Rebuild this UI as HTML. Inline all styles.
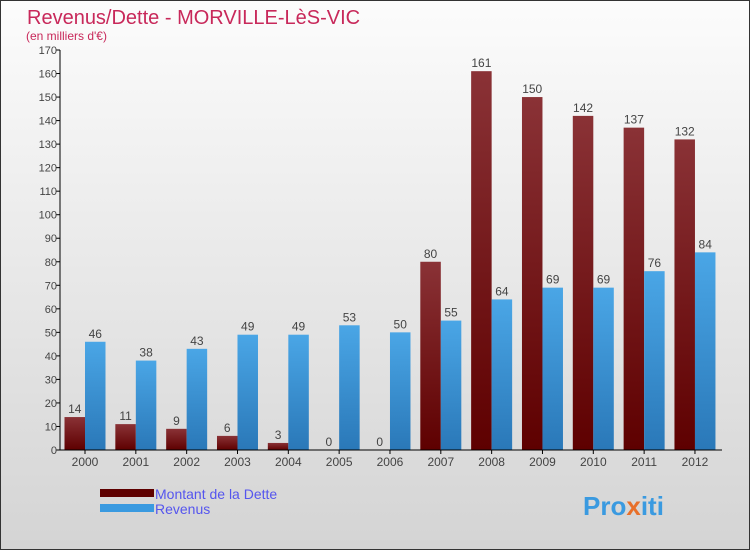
<!DOCTYPE html>
<html><head><meta charset="utf-8"><style>
body{margin:0;width:750px;height:550px;overflow:hidden;font-family:"Liberation Sans",sans-serif}
svg{display:block}
</style></head><body>
<svg id="c" width="750" height="550" xmlns="http://www.w3.org/2000/svg">
<defs>
<linearGradient id="bg" x1="0" y1="0" x2="0" y2="1"><stop offset="0" stop-color="#fcfcfc"/><stop offset="1" stop-color="#d4d4d4"/></linearGradient>
<linearGradient id="gd" x1="0" y1="0" x2="0" y2="1"><stop offset="0" stop-color="#8a3236"/><stop offset="1" stop-color="#5e0000"/></linearGradient>
<linearGradient id="gr" x1="0" y1="0" x2="0" y2="1"><stop offset="0" stop-color="#4aa6e6"/><stop offset="1" stop-color="#2a78b8"/></linearGradient>
</defs>
<rect x="0.5" y="0.5" width="749" height="549" fill="url(#bg)" stroke="#333"/>
<text x="27" y="24" font-size="20" fill="#c8285a">Revenus/Dette - MORVILLE-LèS-VIC</text>
<text x="26" y="40" font-size="12" fill="#c8285a">(en milliers d'€)</text>
<g id="plot"></g>
<rect x="100" y="489" width="54" height="8" fill="#5e0000"/>
<rect x="100" y="504" width="54" height="8" fill="#3a9ae0"/>
<text x="155" y="499" font-size="14" fill="#5555ee">Montant de la Dette</text>
<text x="155" y="514" font-size="14" fill="#5555ee">Revenus</text>
<text x="583" y="515" font-size="26" font-weight="bold" fill="#3a9ae0">Pro<tspan fill="#e8702a">x</tspan>iti</text>
</svg>
<script>
const years=["2000","2001","2002","2003","2004","2005","2006","2007","2008","2009","2010","2011","2012"];
const dette=[14,11,9,6,3,0,0,80,161,150,142,137,132];
const revenus=[46,38,43,49,49,53,50,55,64,69,69,76,84];
const yTicks=[0,10,20,30,40,50,60,70,80,90,100,110,120,130,140,150,160,170];
const NS="http://www.w3.org/2000/svg";
const g=document.getElementById('plot');
const y0=450,y1=50,vmax=170,x0=60,step=50.83,bw=20.5;
const ys=v=>y0-(v/vmax)*(y0-y1);
const xc=i=>x0+25+i*step;
function mk(t,a){const e=document.createElementNS(NS,t);for(const k in a)e.setAttribute(k,a[k]);g.appendChild(e);return e;}
yTicks.forEach(v=>{
 const l=mk('line',{x1:x0-4,x2:x0,y1:ys(v),y2:ys(v),stroke:'#000'});
 
 
 const t=mk('text',{x:x0-3,y:ys(v)+4,'font-size':11,fill:'#444','text-anchor':'end'});
 t.textContent=v;
 
 
});
years.forEach((yr,i)=>{
 const c=xc(i);
 const b1=mk('rect',{x:c-bw,y:ys(dette[i]),width:bw,height:y0-ys(dette[i]),fill:'url(#gd)'});
 
 
 const b2=mk('rect',{x:c,y:ys(revenus[i]),width:bw,height:y0-ys(revenus[i]),fill:'url(#gr)'});
 
 
 const t1=mk('text',{x:c-bw/2,y:ys(dette[i])-4,'font-size':12,fill:'#444','text-anchor':'middle'});
 t1.textContent=dette[i];
 
 
 const t2=mk('text',{x:c+bw/2,y:ys(revenus[i])-4,'font-size':12,fill:'#444','text-anchor':'middle'});
 t2.textContent=revenus[i];
 
 
 const tk=mk('line',{x1:c,x2:c,y1:y0,y2:y0+4,stroke:'#000'});
 
 
 const xl=mk('text',{x:c,y:y0+16,'font-size':12,fill:'#444','text-anchor':'middle'});
 xl.textContent=yr;
 
 
});
const ya=mk('line',{x1:x0,x2:x0,y1:y1,y2:y0,stroke:'#000'});


const xa=mk('line',{x1:x0,x2:722,y1:y0,y2:y0,stroke:'#000'});


</script>
</body></html>
